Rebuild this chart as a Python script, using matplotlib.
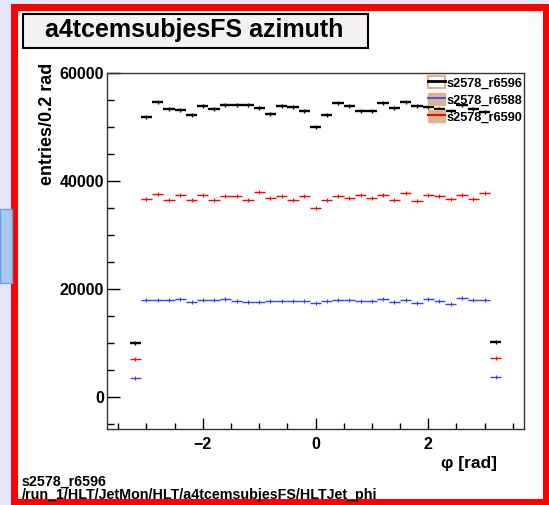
import matplotlib
matplotlib.use('Agg')
import matplotlib.pyplot as plt
from matplotlib.patches import Rectangle
from matplotlib.lines import Line2D
from matplotlib.legend_handler import HandlerTuple
from matplotlib.ticker import MultipleLocator

plt.rcParams['font.family'] = ['Liberation Sans', 'DejaVu Sans']
plt.rcParams['font.weight'] = 'bold'

# bin centres (0.2 rad bins)
phi = [-3.2, -3.0, -2.8, -2.6, -2.4, -2.2, -2.0, -1.8, -1.6, -1.4, -1.2,
       -1.0, -0.8, -0.6, -0.4, -0.2, 0.0, 0.2, 0.4, 0.6, 0.8, 1.0,
       1.2, 1.4, 1.6, 1.8, 2.0, 2.2, 2.4, 2.6, 2.8, 3.0, 3.2]

r6596 = [10030, 51900, 54540, 53380, 53190, 52270, 53880, 53380, 54060, 54060, 54060,
         53440, 52450, 53880, 53690, 53010, 50080, 52210, 54430, 53930, 53010, 53010,
         54360, 53440, 54670, 53930, 53750, 53400, 52900, 54100, 53300, 52800, 10210]
r6588 = [3450, 17860, 17860, 17860, 18040, 17610, 17860, 17860, 18040, 17670, 17610,
         17610, 17730, 17730, 17730, 17730, 17360, 17730, 17980, 17860, 17670, 17670,
         18040, 17610, 17980, 17420, 18040, 17670, 17240, 18290, 17980, 17860, 3570]
r6590 = [6960, 36630, 37620, 36440, 37440, 36440, 37440, 36440, 37190, 37190, 36440,
         37860, 36810, 37190, 36440, 37190, 35040, 36440, 37240, 36810, 37440, 36810,
         37440, 36440, 37680, 36260, 37440, 37190, 36630, 37440, 36630, 37680, 7080]

labels = ['s2578_r6596', 's2578_r6588', 's2578_r6590']

W, H = 549, 505
fig = plt.figure(figsize=(W / 100, H / 100), dpi=100)
fig.patch.set_facecolor('#e6e6f6')

def px_rect(x0, y0, x1, y1, z=-5, **kw):
    # rectangle given in pixel coords (top-down)
    r = Rectangle((x0 / W, 1 - y1 / H), (x1 - x0) / W, (y1 - y0) / H,
                  transform=fig.transFigure, zorder=z, **kw)
    fig.patches.append(r)
    return r

# red frame and white canvas
px_rect(11, 4, 560, 510, facecolor='#ff0000', edgecolor='none')
px_rect(18, 11, 543, 499, z=-4, facecolor='white', edgecolor='none')
# little blue button on the left
px_rect(0, 209, 12, 283, z=-3, facecolor='#a8c8f0', edgecolor='#6f9ed8', lw=1)
# title box
px_rect(23, 14, 368, 48, z=5, facecolor='#f2f2f2', edgecolor='black', lw=1.5)
fig.text(194 / W, 1 - 30 / H, 'a4tcemsubjesFS azimuth', ha='center', va='center',
         fontsize=18, fontweight='bold', zorder=6)

ax = fig.add_axes([107 / W, 1 - 429 / H, 417 / W, 356 / H])
ax.set_zorder(2)

ax.errorbar(phi, r6596, xerr=0.1, fmt='|', color='black', lw=1.7, ms=3, mew=1)
ax.errorbar(phi, r6590, xerr=0.1, fmt='|', color='#ff0000', lw=1, ms=3, mew=0.8)
ax.errorbar(phi, r6588, xerr=0.1, fmt='|', color='#3a3aff', lw=1, ms=3, mew=0.8)

ax.set_xlim(-3.7, 3.7)
ax.set_ylim(-6000, 60000)
ax.xaxis.set_major_locator(MultipleLocator(2))
ax.xaxis.set_minor_locator(MultipleLocator(0.5))
ax.yaxis.set_major_locator(MultipleLocator(20000))
ax.yaxis.set_minor_locator(MultipleLocator(5000))
ax.tick_params(which='both', direction='in', top=False, right=False,
               labelsize=11.5, width=1)
ax.tick_params(axis='y', which='major', length=9.5, pad=2)
ax.tick_params(axis='y', which='minor', length=5)
ax.tick_params(axis='x', which='major', length=8, pad=6)
ax.tick_params(axis='x', which='minor', length=4)
for lab in ax.get_xticklabels() + ax.get_yticklabels():
    lab.set_fontweight('bold')
for s in ax.spines.values():
    s.set_color('#333333')
    s.set_linewidth(1)

ax.text(-0.143, 1.03, 'entries/0.2 rad', rotation=90, ha='center', va='top',
        transform=ax.transAxes, fontsize=13, fontweight='bold')
ax.text(0.935, -0.098, 'φ [rad]', ha='right', va='center',
        transform=ax.transAxes, fontsize=12.5, fontweight='bold')

# legend: tan box with coloured line
tan = '#dbb68a'
h1 = (Rectangle((0, 0), 1, 1, facecolor='none', edgecolor=tan, lw=1.5),
      Line2D([], [], color='black', lw=2))
h2 = (Rectangle((0, 0), 1, 1, facecolor=tan, edgecolor=tan),
      Line2D([], [], color='#5050ff', lw=1.5))
h3 = (Rectangle((0, 0), 1, 1, facecolor=tan, edgecolor=tan),
      Line2D([], [], color='#ff0000', lw=1.5))
ax.legend([h1, h2, h3], labels, handler_map={tuple: HandlerTuple(ndivide=1, pad=0)},
          loc='upper right', bbox_to_anchor=(1.015, 1.012), frameon=False,
          handlelength=1.35, handleheight=1.0, handletextpad=0.1,
          labelspacing=0.3, borderaxespad=0.2, prop={'weight': 'bold', 'size': 9.2})

fig.text(22 / W, 1 - 482 / H, 's2578_r6596', ha='left', va='center',
         fontsize=10.3, fontweight='bold')
fig.text(22 / W, 1 - 495 / H, '/run_1/HLT/JetMon/HLT/a4tcemsubjesFS/HLTJet_phi',
         ha='left', va='center', fontsize=10.3, fontweight='bold')

fig.savefig('out.png', dpi=100, facecolor=fig.get_facecolor())
